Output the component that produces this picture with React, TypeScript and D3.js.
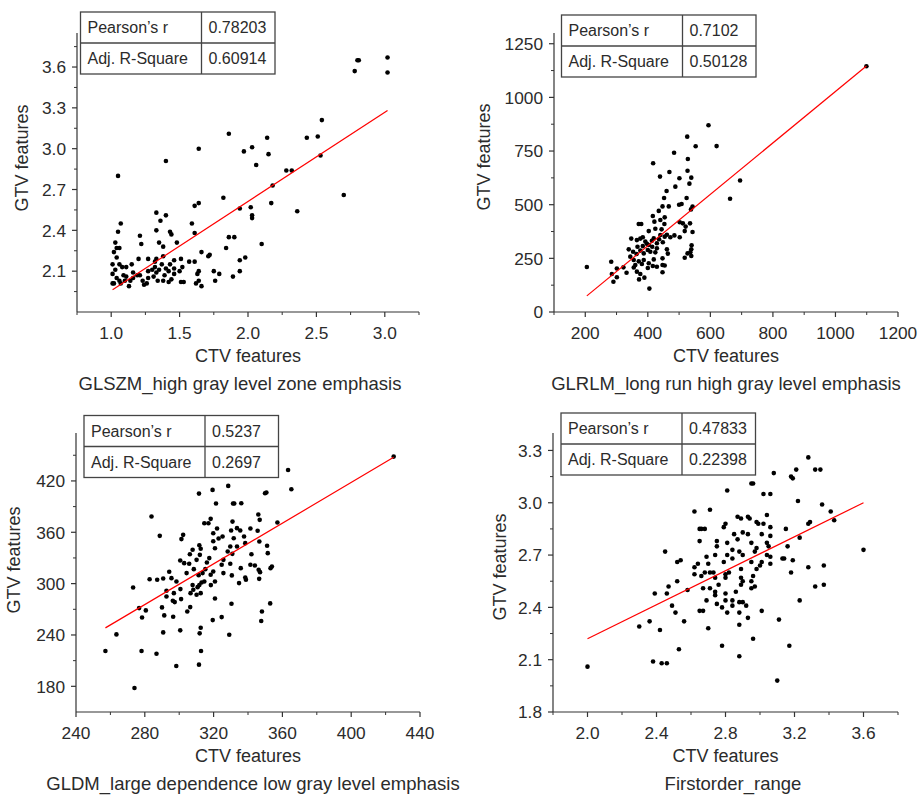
import React from "react";
import * as d3 from "d3";

const FONT = "'Liberation Sans', Arial, Helvetica, sans-serif";
const TEXT = "#2b2b2b";

// ---------- Data ----------
const panelTitles = [
  "GLSZM_high gray level zone emphasis",
  "GLRLM_long run high gray level emphasis",
  "GLDM_large dependence low gray level emphasis",
  "Firstorder_range",
];
const xAxisLabel = "CTV features";
const yAxisLabel = "GTV features";
const statLabels = ["Pearson’s r", "Adj. R-Square"];
const pearsonR = ["0.78203", "0.7102", "0.5237", "0.47833"];
const adjRSquare = ["0.60914", "0.50128", "0.2697", "0.22398"];

// fitted line: [slope, intercept]
const fitLines: [number, number][] = [
  [0.655, 1.302],
  [1.198, -170.6],
  [1.189, -57.4],
  [0.4875, 1.245],
];

const glszmPoints: [number, number][] = [
  [2.78, 3.57], [2.8, 3.65], [2.81, 3.65], [3.02, 3.67], [3.02, 3.56],
  [2.54, 3.21], [2.43, 3.08], [2.51, 3.09], [2.53, 2.95], [2.7, 2.66], [2.36, 2.54],
  [1.86, 3.11], [1.64, 3.0], [1.4, 2.91], [1.05, 2.8], [1.97, 2.98], [2.03, 3.01],
  [2.14, 3.08], [2.15, 2.96], [2.06, 2.88], [2.28, 2.84], [2.32, 2.84], [2.18, 2.73],
  [2.17, 2.6], [1.82, 2.64], [2.02, 2.57], [1.94, 2.56], [2.03, 2.51], [2.03, 2.49],
  [1.64, 2.6], [1.61, 2.58], [2.1, 2.3], [1.86, 2.35], [1.9, 2.35], [1.84, 2.27],
  [1.98, 2.2], [1.94, 2.18], [1.94, 2.1], [1.89, 2.06], [1.79, 2.08], [1.76, 2.03],
  [1.75, 2.1], [1.72, 2.22], [1.71, 2.21], [1.66, 2.24], [1.66, 1.99], [1.59, 2.45],
  [1.61, 2.38], [1.64, 2.1], [1.63, 2.08], [1.61, 2.17], [1.57, 2.17], [1.64, 2.03],
  [1.62, 2.01], [1.07, 2.45], [1.05, 2.39], [1.03, 2.31], [1.04, 2.27], [1.06, 2.27],
  [1.02, 2.24], [1.04, 2.2], [1.01, 2.15], [1.03, 2.11], [1.06, 2.15], [1.08, 2.13],
  [1.11, 2.13], [1.15, 2.15], [1.21, 2.36], [1.22, 2.3], [1.2, 2.19], [1.27, 2.19],
  [1.33, 2.53], [1.4, 2.51], [1.36, 2.47], [1.33, 2.4], [1.35, 2.31], [1.38, 2.28],
  [1.43, 2.39], [1.44, 2.37], [1.48, 2.31], [1.33, 2.19], [1.38, 2.21], [1.32, 2.17],
  [1.37, 2.15], [1.43, 2.15], [1.46, 2.18], [1.51, 2.19], [1.52, 2.13], [1.3, 2.11],
  [1.35, 2.11], [1.4, 2.12], [1.46, 2.12], [1.5, 2.1], [1.01, 2.08], [1.02, 2.01],
  [1.04, 2.05], [1.01, 2.01], [1.07, 2.01], [1.09, 2.07], [1.11, 2.06], [1.13, 1.99],
  [1.14, 2.03], [1.16, 2.09], [1.19, 2.07], [1.21, 2.07], [1.23, 2.03], [1.24, 2.0],
  [1.26, 2.01], [1.27, 2.05], [1.31, 2.06], [1.34, 2.03], [1.38, 2.03], [1.42, 2.02],
  [1.44, 2.04], [1.46, 2.08], [1.51, 2.02], [1.53, 2.02], [1.06, 2.03], [1.1, 2.03],
  [1.16, 2.05], [1.33, 2.09], [1.39, 2.07], [1.42, 2.1], [1.27, 2.1], [1.32, 2.13],
];

const glrlmPoints: [number, number][] = [
  [1099, 1145], [594, 870], [620, 773], [526, 817], [553, 772], [484, 742], [528, 713],
  [417, 693], [469, 652], [439, 631], [527, 658], [539, 626], [501, 623], [533, 598],
  [488, 584], [460, 564], [524, 531], [500, 500], [508, 503], [452, 531], [447, 492],
  [467, 492], [695, 613], [663, 528], [543, 491], [538, 478], [435, 471], [416, 447],
  [454, 441], [440, 429], [421, 421], [371, 410], [379, 410], [502, 418], [512, 413],
  [535, 413], [521, 398], [453, 410], [444, 385], [403, 377], [424, 388], [440, 359],
  [461, 360], [472, 348], [485, 357], [502, 348], [518, 377], [543, 373], [347, 342],
  [365, 335], [376, 342], [413, 332], [429, 320], [448, 325], [429, 297], [414, 304],
  [397, 318], [384, 307], [367, 304], [339, 292], [353, 281], [364, 270], [376, 286],
  [387, 273], [400, 289], [408, 281], [461, 292], [464, 272], [540, 311], [539, 292],
  [536, 278], [527, 273], [518, 253], [539, 261], [344, 258], [355, 242], [371, 236],
  [381, 224], [403, 227], [419, 245], [447, 250], [283, 234], [205, 210], [301, 203],
  [322, 208], [355, 207], [365, 188], [376, 177], [389, 160], [372, 152], [332, 183],
  [285, 177], [301, 162], [290, 141], [405, 109], [416, 214], [429, 211], [447, 219],
  [447, 185], [454, 217], [384, 348], [392, 328], [403, 312], [419, 343], [436, 339],
  [454, 351], [424, 278], [387, 242], [360, 219], [400, 205],
];

const gldmPoints: [number, number][] = [
  [424.7, 448.4], [363.3, 432.8], [365.2, 410.3], [328.5, 414.2], [319.4, 409.5],
  [311.5, 405.2], [349.9, 405.6], [350.7, 406.4], [321.4, 393.6], [331.3, 393.6],
  [332.0, 393.6], [336.1, 394.0], [283.9, 378.4], [288.7, 355.8], [318.3, 375.7],
  [314.6, 370.6], [317.0, 370.6], [346.0, 380.7], [346.8, 374.5], [357.1, 371.4],
  [331.0, 372.5], [341.4, 364.4], [345.6, 361.7], [346.6, 349.2], [351.1, 344.2],
  [351.5, 335.6], [346.2, 316.1], [347.0, 313.4], [353.1, 318.1], [353.9, 320.0],
  [352.9, 276.9], [348.1, 267.5], [347.7, 256.3], [346.5, 305.6], [338.8, 304.5],
  [338.4, 307.2], [335.8, 318.1], [341.4, 322.0], [344.0, 321.2], [342.0, 334.4],
  [337.7, 355.0], [338.4, 347.3], [333.6, 364.8], [335.5, 362.0], [330.2, 362.0],
  [331.7, 353.1], [329.7, 343.4], [333.6, 343.4], [328.2, 337.5], [330.9, 334.8],
  [329.7, 323.2], [325.7, 312.3], [334.8, 300.6], [319.8, 358.9], [322.0, 364.4],
  [322.9, 352.7], [325.2, 355.0], [319.8, 349.6], [320.8, 341.4], [317.5, 329.8],
  [316.1, 324.7], [319.8, 314.2], [318.3, 310.3], [320.8, 302.5], [318.4, 298.3],
  [314.6, 302.5], [313.0, 301.4], [311.7, 298.3], [310.7, 295.9], [307.8, 298.3],
  [308.2, 292.8], [310.1, 287.0], [312.5, 288.9], [306.6, 288.9], [311.7, 344.9],
  [312.5, 340.7], [310.1, 327.8], [312.0, 333.6], [307.8, 339.5], [306.2, 334.4],
  [302.9, 323.9], [300.6, 327.0], [305.8, 323.2], [301.3, 352.0], [302.3, 357.0],
  [298.4, 302.5], [300.7, 293.6], [295.5, 306.4], [294.2, 313.8], [290.7, 306.0],
  [287.2, 304.5], [282.8, 305.2], [292.6, 291.6], [296.9, 288.9], [296.3, 280.0],
  [301.1, 281.9], [297.4, 278.4], [292.6, 285.0], [290.0, 272.2], [276.7, 271.4],
  [280.6, 268.7], [273.2, 295.5], [278.4, 260.5], [291.3, 262.9], [296.5, 261.3],
  [304.7, 267.5], [306.4, 272.6], [300.6, 245.4], [290.7, 243.0], [263.5, 240.7],
  [257.1, 221.2], [278.1, 221.2], [286.8, 218.1], [298.3, 203.7], [274.0, 178.1],
  [311.5, 205.3], [312.7, 221.2], [311.9, 241.9], [312.5, 248.5], [319.5, 257.4],
  [324.7, 260.9], [320.8, 282.7], [329.1, 240.3], [330.4, 276.5], [311.3, 309.9],
  [313.6, 312.3], [315.2, 316.9], [325.7, 327.8], [324.7, 322.0], [330.6, 309.6],
  [304.3, 312.3], [308.5, 316.9],
];

const firstorderPoints: [number, number][] = [
  [2.0, 2.06], [3.6, 2.73], [3.28, 3.26], [3.32, 3.19], [3.35, 3.19], [3.21, 3.19],
  [3.18, 3.15], [3.19, 3.14], [3.08, 3.17], [2.95, 3.11], [2.96, 3.11], [2.81, 3.07],
  [3.02, 3.05], [3.06, 3.05], [3.22, 3.01], [3.36, 2.99], [2.62, 2.95], [2.71, 2.96],
  [3.41, 2.95], [3.43, 2.9], [3.28, 2.88], [3.29, 2.89], [3.23, 2.8], [3.15, 2.85],
  [2.87, 2.92], [2.89, 2.91], [2.93, 2.92], [2.94, 2.91], [2.98, 2.89], [3.04, 2.93],
  [3.02, 2.88], [2.99, 2.88], [2.79, 2.86], [2.8, 2.88], [3.06, 2.86], [3.01, 2.82],
  [3.06, 2.81], [2.9, 2.83], [2.85, 2.82], [2.87, 2.79], [2.93, 2.82], [2.95, 2.77],
  [2.65, 2.85], [2.66, 2.85], [2.68, 2.85], [2.65, 2.78], [2.75, 2.78], [2.75, 2.75],
  [2.81, 2.77], [2.84, 2.73], [2.88, 2.72], [2.9, 2.7], [2.84, 2.68], [2.81, 2.7],
  [2.74, 2.7], [2.69, 2.69], [2.7, 2.65], [2.64, 2.65], [2.62, 2.63], [2.98, 2.74],
  [2.97, 2.72], [3.04, 2.77], [3.05, 2.75], [3.04, 2.7], [3.06, 2.69], [3.06, 2.65],
  [3.01, 2.66], [3.0, 2.64], [2.98, 2.62], [2.95, 2.66], [3.13, 2.68], [3.14, 2.68],
  [3.16, 2.75], [3.19, 2.67], [3.18, 2.6], [3.28, 2.63], [3.37, 2.64], [3.37, 2.53],
  [3.32, 2.52], [3.23, 2.44], [3.11, 2.33], [3.17, 2.18], [3.1, 1.98], [3.01, 2.38],
  [2.96, 2.22], [2.88, 2.12], [2.78, 2.18], [2.88, 2.3], [2.93, 2.34], [2.92, 2.41],
  [2.9, 2.43], [2.88, 2.43], [2.88, 2.37], [2.84, 2.44], [2.84, 2.41], [2.81, 2.37],
  [2.78, 2.4], [2.8, 2.44], [2.8, 2.48], [2.86, 2.49], [2.75, 2.42], [2.69, 2.44],
  [2.74, 2.47], [2.74, 2.49], [2.71, 2.51], [2.67, 2.51], [2.65, 2.38], [2.67, 2.38],
  [2.7, 2.28], [2.76, 2.53], [2.74, 2.57], [2.8, 2.57], [2.8, 2.59], [2.79, 2.66],
  [2.82, 2.6], [2.89, 2.62], [2.89, 2.57], [2.9, 2.55], [2.89, 2.53], [2.95, 2.55],
  [2.97, 2.52], [2.95, 2.51], [2.96, 2.58], [2.68, 2.6], [2.71, 2.6], [2.73, 2.6],
  [2.66, 2.58], [2.62, 2.59], [2.52, 2.66], [2.54, 2.67], [2.45, 2.72], [2.58, 2.5],
  [2.52, 2.55], [2.47, 2.52], [2.46, 2.48], [2.39, 2.48], [2.49, 2.41], [2.51, 2.37],
  [2.56, 2.32], [2.36, 2.32], [2.3, 2.29], [2.42, 2.27], [2.53, 2.16], [2.38, 2.09],
  [2.43, 2.08], [2.46, 2.08],
];

const allPoints = [glszmPoints, glrlmPoints, gldmPoints, firstorderPoints];

// axis domains and ticks
const xDomains: [number, number][] = [[0.75, 3.25], [100, 1200], [240, 440], [1.8, 3.8]];
const yDomains: [number, number][] = [[1.8, 3.85], [0, 1300], [150, 476], [1.8, 3.4]];
const xTickValues = [
  [1.0, 1.5, 2.0, 2.5, 3.0],
  [200, 400, 600, 800, 1000, 1200],
  [240, 280, 320, 360, 400, 440],
  [2.0, 2.4, 2.8, 3.2, 3.6],
];
const xMinorValues = [
  [0.75, 1.25, 1.75, 2.25, 2.75, 3.25],
  [100, 300, 500, 700, 900, 1100],
  [260, 300, 340, 380, 420],
  [1.8, 2.2, 2.6, 3.0, 3.4, 3.8],
];
const yTickValues = [
  [2.1, 2.4, 2.7, 3.0, 3.3, 3.6],
  [0, 250, 500, 750, 1000, 1250],
  [180, 240, 300, 360, 420],
  [1.8, 2.1, 2.4, 2.7, 3.0, 3.3],
];
const yMinorValues = [
  [1.95, 2.25, 2.55, 2.85, 3.15, 3.45, 3.75],
  [125, 375, 625, 875, 1125],
  [210, 270, 330, 390, 450],
  [1.95, 2.25, 2.55, 2.85, 3.15],
];
const xTickFormats = [".1f", "d", "d", ".1f"];
const yTickFormats = [".1f", "d", "d", ".1f"];

// ---------- Layout ----------
type Layout = {
  l: number; r: number; t: number; b: number;
  tableX: number; tableY: number;
  yLabelX: number; yLabelY: number;
  titleX: number;
};
const layouts: Layout[] = [
  { l: 77, r: 419, t: 33, b: 312, tableX: 80.5, tableY: 12, yLabelX: 22, yLabelY: 158, titleX: 240 },
  { l: 554, r: 898, t: 33, b: 312, tableX: 561.5, tableY: 15, yLabelX: 484, yLabelY: 157, titleX: 726 },
  { l: 76, r: 420, t: 433, b: 712, tableX: 84, tableY: 415.5, yLabelX: 14, yLabelY: 560, titleX: 253 },
  { l: 553, r: 898, t: 433, b: 712, tableX: 561, tableY: 413, yLabelX: 500, yLabelY: 567, titleX: 733 },
];

const TABLE_COL1 = 121;
const TABLE_COL2 = 73.5;
const ROW_H = 31;

function Panel({ i }: { i: number }) {
  const L = layouts[i];
  const x = d3.scaleLinear().domain(xDomains[i]).range([L.l, L.r]);
  const y = d3.scaleLinear().domain(yDomains[i]).range([L.b, L.t]);
  const pts = allPoints[i];
  const [slope, intercept] = fitLines[i];
  const [x0, x1] = d3.extent(pts, (d) => d[0]) as [number, number];
  const fx = d3.format(xTickFormats[i]);
  const fy = d3.format(yTickFormats[i]);
  const axisColor = "#333";
  const line = d3.line<number>().x((v) => x(v)).y((v) => y(slope * v + intercept));
  return (
    <g>
      {/* axes */}
      <line x1={L.l} x2={L.r} y1={L.b} y2={L.b} stroke={axisColor} strokeWidth={1.2} />
      <line x1={L.l} x2={L.l} y1={L.t} y2={L.b} stroke={axisColor} strokeWidth={1.2} />
      {xTickValues[i].map((v) => (
        <g key={"xt" + v}>
          <line x1={x(v)} x2={x(v)} y1={L.b} y2={L.b + 5} stroke={axisColor} strokeWidth={1.2} />
          <text x={x(v)} y={L.b + 27} textAnchor="middle" fontSize={17.3} fill={TEXT} fontFamily={FONT}>
            {fx(v)}
          </text>
        </g>
      ))}
      {xMinorValues[i].map((v) => (
        <line key={"xm" + v} x1={x(v)} x2={x(v)} y1={L.b} y2={L.b + 3} stroke={axisColor} strokeWidth={1} />
      ))}
      {yTickValues[i].map((v) => (
        <g key={"yt" + v}>
          <line x1={L.l - 5} x2={L.l} y1={y(v)} y2={y(v)} stroke={axisColor} strokeWidth={1.2} />
          <text x={L.l - 11} y={y(v)} dy="0.36em" textAnchor="end" fontSize={17.3} fill={TEXT} fontFamily={FONT}>
            {fy(v)}
          </text>
        </g>
      ))}
      {yMinorValues[i].map((v) => (
        <line key={"ym" + v} x1={L.l - 3} x2={L.l} y1={y(v)} y2={y(v)} stroke={axisColor} strokeWidth={1} />
      ))}
      {/* labels */}
      <text x={(L.l + L.r) / 2} y={L.b + 50} textAnchor="middle" fontSize={18} fill={TEXT} fontFamily={FONT}>
        {xAxisLabel}
      </text>
      <text x={L.titleX} y={L.b + 78} textAnchor="middle" fontSize={18.5} fill={TEXT} fontFamily={FONT}>
        {panelTitles[i]}
      </text>
      <text
        transform={`translate(${L.yLabelX},${L.yLabelY}) rotate(-90)`}
        textAnchor="middle"
        dy="0.36em"
        fontSize={18}
        fill={TEXT}
        fontFamily={FONT}
      >
        {yAxisLabel}
      </text>
      {/* points */}
      {pts.map((d, k) => (
        <circle key={k} cx={x(d[0])} cy={y(d[1])} r={2.3} fill="#000" />
      ))}
      {/* fit */}
      <path d={line([x0, x1]) || ""} stroke="#ff0000" strokeWidth={1.2} fill="none" />
      {/* stats table */}
      <g transform={`translate(${L.tableX},${L.tableY})`}>
        <rect x={0} y={0} width={TABLE_COL1 + TABLE_COL2} height={ROW_H * 2} fill="#fff" stroke="#444" strokeWidth={1.3} />
        <line x1={0} x2={TABLE_COL1 + TABLE_COL2} y1={ROW_H} y2={ROW_H} stroke="#444" strokeWidth={1.3} />
        <line x1={TABLE_COL1} x2={TABLE_COL1} y1={0} y2={ROW_H * 2} stroke="#444" strokeWidth={1.3} />
        {statLabels.map((s, k) => (
          <g key={s}>
            <text x={7} y={ROW_H * k + ROW_H / 2} dy="0.36em" fontSize={16} fill={TEXT} fontFamily={FONT}>
              {s}
            </text>
            <text x={TABLE_COL1 + 7} y={ROW_H * k + ROW_H / 2} dy="0.36em" fontSize={16} fill={TEXT} fontFamily={FONT}>
              {k === 0 ? pearsonR[i] : adjRSquare[i]}
            </text>
          </g>
        ))}
      </g>
    </g>
  );
}

export default function App() {
  return (
    <svg
      width={920}
      height={795}
      style={{ position: "absolute", left: 0, top: 0, background: "#fff" }}
    >
      <rect width={920} height={795} fill="#fff" />
      {[0, 1, 2, 3].map((i) => (
        <Panel key={i} i={i} />
      ))}
    </svg>
  );
}
